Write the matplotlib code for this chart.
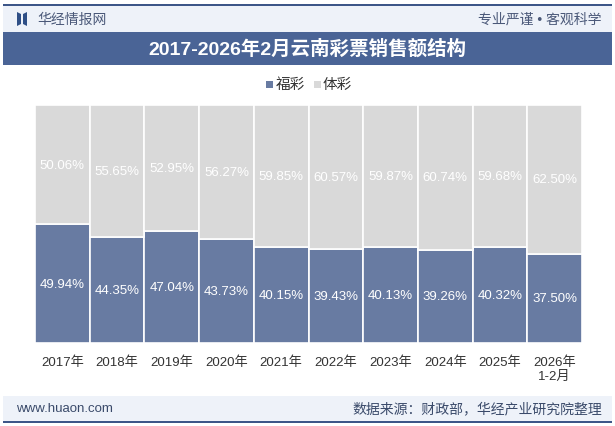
import matplotlib
matplotlib.use("Agg")
import matplotlib.pyplot as plt
from matplotlib.patches import Rectangle, Polygon

plt.rcParams['font.family'] = ['Liberation Sans', 'Noto Sans CJK SC', 'DejaVu Sans']

categories = ["2017年", "2018年", "2019年", "2020年", "2021年", "2022年", "2023年", "2024年", "2025年", "2026年\n1-2月"]
fucai = [49.94, 44.35, 47.04, 43.73, 40.15, 39.43, 40.13, 39.26, 40.32, 37.50]
ticai = [50.06, 55.65, 52.95, 56.27, 59.85, 60.57, 59.87, 60.74, 59.68, 62.50]
series_names = ["福彩", "体彩"]
title = "2017-2026年2月云南彩票销售额结构"

W, H = 615, 427
fig = plt.figure(figsize=(W / 100, H / 100), dpi=100)
fig.patch.set_facecolor("white")

def fx(x):
    return x / W

def fy(y):
    return 1 - y / H

blue = "#687ba2"
gray = "#d9d9d9"
dark = "#3d5688"

# header band
fig.patches.append(Rectangle((fx(3), fy(33)), fx(609), 27 / H, transform=fig.transFigure,
                             facecolor="#eef2f9", edgecolor="none", zorder=0))
fig.patches.append(Rectangle((fx(3), fy(6.5)), fx(609), 1.5 / H, transform=fig.transFigure,
                             facecolor=dark, edgecolor="none", zorder=1))
fig.patches.append(Rectangle((fx(3), fy(7)), fx(5), 2.5 / H, transform=fig.transFigure,
                             facecolor=dark, edgecolor="none", zorder=1))
fig.patches.append(Rectangle((fx(607), fy(7)), fx(5), 2.5 / H, transform=fig.transFigure,
                             facecolor=dark, edgecolor="none", zorder=1))
# icon
fig.patches.append(Polygon([(fx(17), fy(13)), (fx(21), fy(15)), (fx(21), fy(25)), (fx(17), fy(27))],
                           closed=True, transform=fig.transFigure, facecolor="#2f4f86", edgecolor="none"))
fig.patches.append(Polygon([(fx(27), fy(13)), (fx(23), fy(15)), (fx(23), fy(25)), (fx(27), fy(27))],
                           closed=True, transform=fig.transFigure, facecolor="#2f4f86", edgecolor="none"))
fig.text(fx(37), fy(20), "华经情报网", fontsize=10, color="#4a5878", va="center", ha="left")
fig.text(fx(602), fy(20), "专业严谨 • 客观科学", fontsize=10, color="#4a5878", va="center", ha="right")

# title band
fig.patches.append(Rectangle((fx(3), fy(66)), fx(609), 33 / H, transform=fig.transFigure,
                             facecolor="#4a6496", edgecolor="none", zorder=0))
fig.text(0.5, fy(49.5), title, fontsize=14, fontweight="bold", color="white", ha="center", va="center")

# legend
fig.patches.append(Rectangle((fx(266), fy(89)), fx(7), 7 / H, transform=fig.transFigure,
                             facecolor=blue, edgecolor="none"))
fig.text(fx(276), fy(85), series_names[0], fontsize=10.5, color="#333333", va="center", ha="left")
fig.patches.append(Rectangle((fx(314), fy(89)), fx(7), 7 / H, transform=fig.transFigure,
                             facecolor=gray, edgecolor="none"))
fig.text(fx(323), fy(85), series_names[1], fontsize=10.5, color="#333333", va="center", ha="left")

# axes
ax = fig.add_axes([fx(35), fy(344), fx(547), (344 - 106) / H])
x = list(range(len(categories)))
ax.bar(x, fucai, width=1.0, color=blue, edgecolor="white", linewidth=1.2)
ax.bar(x, ticai, bottom=fucai, width=1.0, color=gray, edgecolor="white", linewidth=1.2)
for i in x:
    ax.text(i, fucai[i] / 2, f"{fucai[i]:.2f}%", ha="center", va="center", color="white", fontsize=9.5)
    ax.text(i, fucai[i] + ticai[i] / 2, f"{ticai[i]:.2f}%", ha="center", va="center", color="white", fontsize=9.5)
ax.set_xlim(-0.5, len(categories) - 0.5)
ax.set_ylim(0, 100)
ax.set_xticks(x)
ax.set_xticklabels(categories, fontsize=9.5, color="#333333", linespacing=1.2)
ax.tick_params(axis="x", length=0, pad=9)
ax.set_yticks([])
for s in ax.spines.values():
    s.set_visible(False)

# footer band
fig.patches.append(Rectangle((fx(3), fy(422)), fx(609), 25 / H, transform=fig.transFigure,
                             facecolor="#eef2f9", edgecolor="none", zorder=0))
fig.patches.append(Rectangle((fx(3), fy(423.5)), fx(609), 1.5 / H, transform=fig.transFigure,
                             facecolor=dark, edgecolor="none", zorder=1))
fig.patches.append(Rectangle((fx(3), fy(424)), fx(5), 2.5 / H, transform=fig.transFigure,
                             facecolor=dark, edgecolor="none", zorder=1))
fig.patches.append(Rectangle((fx(607), fy(424)), fx(5), 2.5 / H, transform=fig.transFigure,
                             facecolor=dark, edgecolor="none", zorder=1))
fig.text(fx(16), fy(409), "www.huaon.com", fontsize=9.5, color="#3a4a6a", va="center", ha="left")
fig.text(fx(602), fy(409), "数据来源：财政部，华经产业研究院整理", fontsize=10, color="#3a4a6a", va="center", ha="right")

fig.savefig("out.png", dpi=100, facecolor="white")
